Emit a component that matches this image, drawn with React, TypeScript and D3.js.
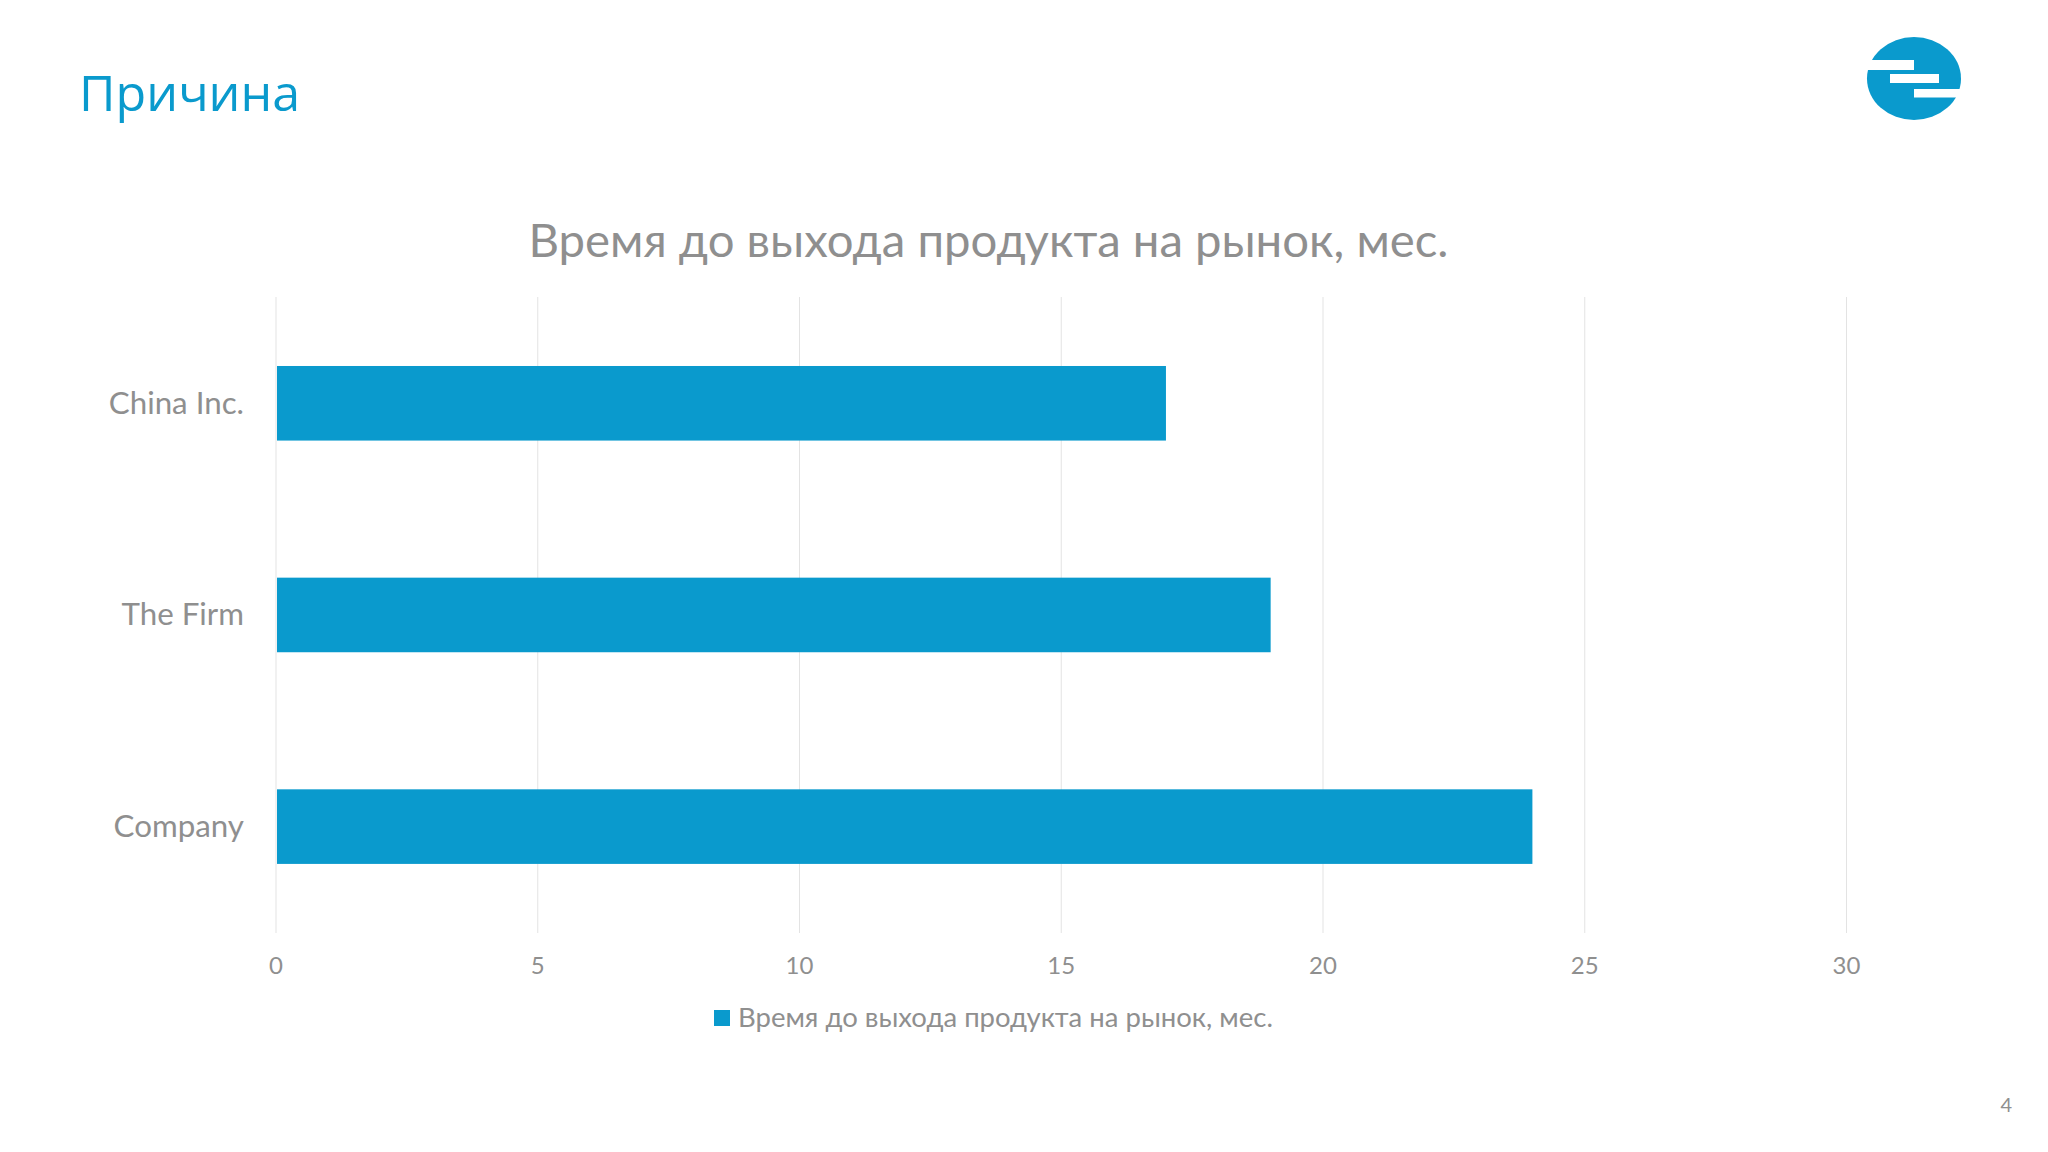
import React from "react";
import * as d3 from "d3";

const categories = ["China Inc.", "The Firm", "Company"];
const months = [17, 19, 24];
const xTicks = [0, 5, 10, 15, 20, 25, 30];
const heading = "Причина";
const chartTitle = "Время до выхода продукта на рынок, мес.";
const pageNumber = "4";

const BLUE = "#0a9acd";
const GREY = "#8f8f8f";
const FONT = "Lato, 'Noto Sans', sans-serif";

export default function App() {
  const x = d3.scaleLinear().domain([0, 30]).range([276, 1846.5]);
  const y = d3.scaleBand<string>().domain(categories).range([297.2, 932.2]).paddingInner(0.65).paddingOuter(0.325);
  return (
    <svg width={2048} height={1152} viewBox="0 0 2048 1152" style={{ position: "absolute", left: 0, top: 0, background: "#fff" }}>
      <text x={79} y={111} fontFamily="'Open Sans', sans-serif" fontSize={50.2} fill={BLUE}>{heading}</text>

      <g>
        <ellipse cx={1914} cy={78.5} rx={47} ry={41.5} fill={BLUE} />
        <rect x={1860} y={60} width={54} height={10} fill="#fff" />
        <rect x={1890} y={74} width={49} height={9} fill="#fff" />
        <rect x={1914} y={89} width={50} height={8.5} fill="#fff" />
      </g>

      <text x={988.5} y={257} textAnchor="middle" fontFamily={FONT} fontSize={47.3} fill={GREY}>{chartTitle}</text>

      {xTicks.map((t) => (
        <g key={t}>
          <line x1={x(t)} x2={x(t)} y1={297} y2={933} stroke="#e3e3e3" strokeWidth={1} />
          <text x={x(t)} y={973.5} textAnchor="middle" fontFamily={FONT} fontSize={24} fill={GREY}>{t}</text>
        </g>
      ))}

      {categories.map((c, i) => (
        <g key={c}>
          <rect x={x(0) + 1} y={y(c)!} width={x(months[i]) - x(0) - 1} height={y.bandwidth() + 0.5} fill={BLUE} />
          <text x={244} y={y(c)! + y.bandwidth() / 2 + 10.5} textAnchor="end" fontFamily={FONT} fontSize={31.3} fill={GREY}>{c}</text>
        </g>
      ))}

      <rect x={714} y={1010} width={16} height={16} fill={BLUE} />
      <text x={738} y={1027} fontFamily={FONT} fontSize={27.5} fill={GREY}>{chartTitle}</text>

      <text x={2012} y={1112} textAnchor="end" fontFamily={FONT} fontSize={20} fill={GREY}>{pageNumber}</text>
    </svg>
  );
}
